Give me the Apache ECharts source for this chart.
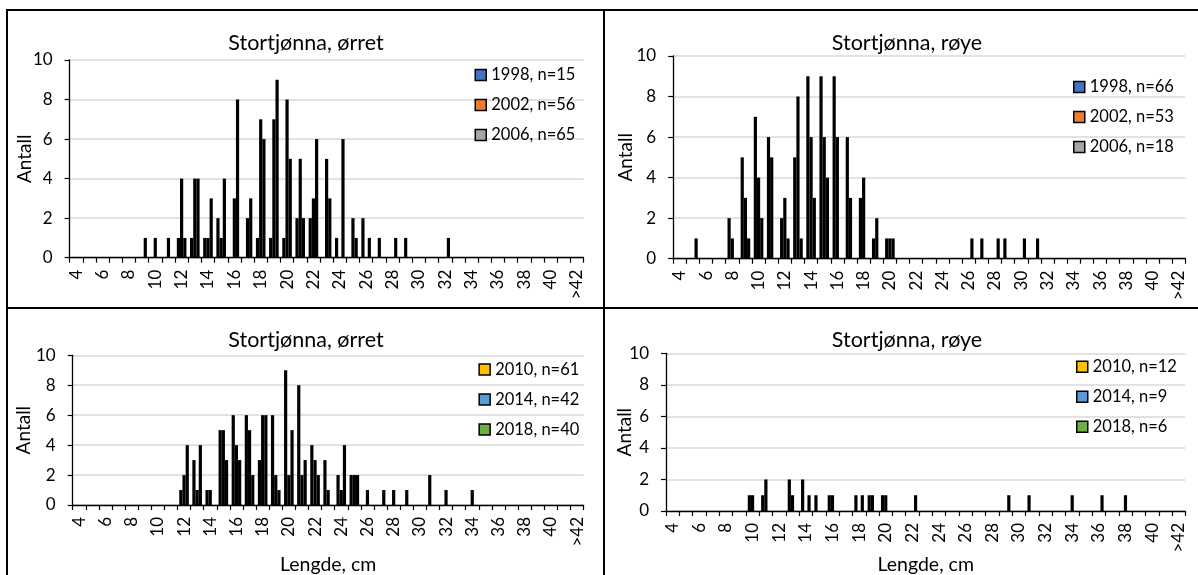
<!DOCTYPE html>
<html>
<head>
<meta charset="utf-8">
<script src="https://cdn.jsdelivr.net/npm/echarts@6/dist/echarts.min.js"></script>
<style>
html,body{margin:0;padding:0;background:#fff;}
#c{width:1198px;height:575px;}
</style>
</head>
<body>
<div id="c"></div>
<script>
// Length categories (cm)
const categories = ['4','5','6','7','8','9','10','11','12','13','14','15','16','17','18','19','20','21','22','23','24','25','26','27','28','29','30','31','32','33','34','35','36','37','38','39','40','41','>42'];

// Panel 1: Stortjønna, ørret
const orret1998 = [0,0,0,0,0,0,0,0,1,1,1,2,0,0,1,1,1,2,2,0,1,0,2,0,0,0,0,0,0,0,0,0,0,0,0,0,0,0,0];
const orret2002 = [0,0,0,0,0,0,1,1,4,4,1,1,3,2,7,7,8,5,3,5,0,2,0,1,0,1,0,0,0,0,0,0,0,0,0,0,0,0,0];
const orret2006 = [0,0,0,0,0,1,0,0,1,4,3,4,8,3,6,9,5,2,6,3,6,1,1,0,1,0,0,0,1,0,0,0,0,0,0,0,0,0,0];

// Panel 2: Stortjønna, røye
const roye1998 = [0,0,0,0,2,5,7,6,2,5,9,9,9,6,3,1,1,0,0,0,0,0,0,0,0,1,0,0,0,0,0,0,0,0,0,0,0,0,0];
const roye2002 = [0,0,0,0,1,3,4,5,3,8,6,6,6,3,4,2,1,0,0,0,0,0,0,1,0,0,0,0,0,0,0,0,0,0,0,0,0,0,0];
const roye2006 = [0,1,0,0,0,1,2,0,1,1,3,4,0,0,0,0,1,0,0,0,0,0,1,0,1,0,1,1,0,0,0,0,0,0,0,0,0,0,0];

// Panel 3: Stortjønna, ørret
const orret2010 = [0,0,0,0,0,0,0,0,1,3,1,5,6,6,3,6,9,8,4,3,2,2,0,0,0,0,0,2,0,0,0,0,0,0,0,0,0,0,0];
const orret2014 = [0,0,0,0,0,0,0,0,2,1,1,5,4,5,6,2,2,2,3,1,1,2,1,0,1,1,0,0,1,0,1,0,0,0,0,0,0,0,0];
const orret2018 = [0,0,0,0,0,0,0,0,4,4,0,3,3,2,6,1,5,3,2,0,4,2,0,1,0,0,0,0,0,0,0,0,0,0,0,0,0,0,0];

// Panel 4: Stortjønna, røye
const roye2010 = [0,0,0,0,0,0,1,1,0,2,2,1,1,0,1,1,1,0,0,0,0,0,0,0,0,0,0,1,0,0,0,0,0,0,0,0,0,0,0];
const roye2014 = [0,0,0,0,0,0,1,2,0,1,0,0,1,0,0,1,1,0,0,0,0,0,0,0,0,0,0,0,0,0,1,0,0,0,1,0,0,0,0];
const roye2018 = [0,0,0,0,0,0,0,0,0,0,1,0,0,0,1,0,0,0,1,0,0,0,0,0,0,1,0,0,0,0,0,0,1,0,0,0,0,0,0];

const yTicks = {min:0, max:10, interval:2};

const panels = [
  {title:'Stortjønna, ørret', tx:306, ty:43,
   grid:{left:69.6, top:60, width:514, height:197.7}, yGap:35, xName:'', xGap:0,
   legend:{left:474.5, top:65},
   series:[['1998, n=15', orret1998, '#4472C4'],['2002, n=56', orret2002, '#ED7D31'],['2006, n=65', orret2006, '#A5A5A5']]},
  {title:'Stortjønna, røye', tx:907, ty:43,
   grid:{left:673.2, top:56, width:512.2, height:202.7}, yGap:38, xName:'', xGap:0,
   legend:{left:1073, top:77},
   series:[['1998, n=66', roye1998, '#4472C4'],['2002, n=53', roye2002, '#ED7D31'],['2006, n=18', roye2006, '#A5A5A5']]},
  {title:'Stortjønna, ørret', tx:306, ty:340,
   grid:{left:72.7, top:355.3, width:510.9, height:149.7}, yGap:39, xName:'Lengde, cm', xGap:50,
   legend:{left:478.4, top:359.5},
   series:[['2010, n=61', orret2010, '#FFC000'],['2014, n=42', orret2014, '#5B9BD5'],['2018, n=40', orret2018, '#70AD47']]},
  {title:'Stortjønna, røye', tx:907, ty:340,
   grid:{left:666, top:353.3, width:519.4, height:157.7}, yGap:32, xName:'Lengde, cm', xGap:44,
   legend:{left:1076, top:356.7},
   series:[['2010, n=12', roye2010, '#FFC000'],['2014, n=9', roye2014, '#5B9BD5'],['2018, n=6', roye2018, '#70AD47']]}
];

const FONT = 'Lato';
const option = {
  animation:false,
  backgroundColor:'#fff',
  grid:[], xAxis:[], yAxis:[], legend:[], series:[],
  graphic:[
    {type:'line', shape:{x1:6, y1:10, x2:1198, y2:10}, style:{stroke:'#000', lineWidth:2}},
    {type:'line', shape:{x1:7, y1:9, x2:7, y2:575}, style:{stroke:'#000', lineWidth:2}},
    {type:'line', shape:{x1:604, y1:10, x2:604, y2:575}, style:{stroke:'#000', lineWidth:2}},
    {type:'line', shape:{x1:7, y1:308, x2:1198, y2:308}, style:{stroke:'#000', lineWidth:2}}
  ]
};

panels.forEach((p, i) => {
  option.graphic.push({type:'text', x:p.tx, y:p.ty,
    style:{text:p.title, fill:'#000', font:'21.5px ' + FONT, textAlign:'center', textVerticalAlign:'middle'}});
  option.grid.push(Object.assign({containLabel:false, outerBoundsMode:'none'}, p.grid));
  option.xAxis.push({type:'category', gridIndex:i, data:categories,
    axisLine:{lineStyle:{color:'#000', width:1.3}},
    axisTick:{show:true, length:5, interval:0, lineStyle:{color:'#000', width:1.2}},
    axisLabel:{rotate:90, interval:1, fontSize:17, fontFamily:FONT, color:'#000', margin:12, hideOverlap:false},
    name:p.xName, nameLocation:'middle', nameGap:p.xGap, nameMoveOverlap:false,
    nameTextStyle:{fontFamily:FONT, fontSize:19.5, color:'#000'}});
  option.yAxis.push({type:'value', gridIndex:i, min:yTicks.min, max:yTicks.max, interval:yTicks.interval,
    axisLine:{show:true, lineStyle:{color:'#000', width:1.3}},
    axisTick:{show:true, length:5, lineStyle:{color:'#000', width:1.2}},
    splitLine:{lineStyle:{color:'#d9d9d9', width:1.5}},
    axisLabel:{fontSize:17, fontFamily:FONT, color:'#000', margin:17},
    name:'Antall', nameLocation:'middle', nameGap:p.yGap, nameRotate:90, nameMoveOverlap:false,
    nameTextStyle:{fontFamily:FONT, fontSize:19, color:'#000'}});
  option.legend.push({orient:'vertical', left:p.legend.left, top:p.legend.top, padding:0,
    data:p.series.map(s => s[0]), icon:'rect', itemWidth:11, itemHeight:11, itemGap:10,
    itemStyle:{borderColor:'#000', borderWidth:1.5},
    textStyle:{fontFamily:FONT, fontSize:16.5, color:'#000', lineHeight:20},
    selectedMode:false});
  p.series.forEach(s => {
    option.series.push({type:'bar', name:s[0], xAxisIndex:i, yAxisIndex:i,
      data:s[1].map(v => v === 0 ? '-' : v),
      barWidth:3.2, barGap:'0%',
      itemStyle:{color:s[2], borderColor:'#000', borderWidth:1.7},
      emphasis:{disabled:true}, silent:true});
  });
});

const chart = echarts.init(document.getElementById('c'), null, {renderer:'canvas'});
chart.setOption(option);
</script>
</body>
</html>
